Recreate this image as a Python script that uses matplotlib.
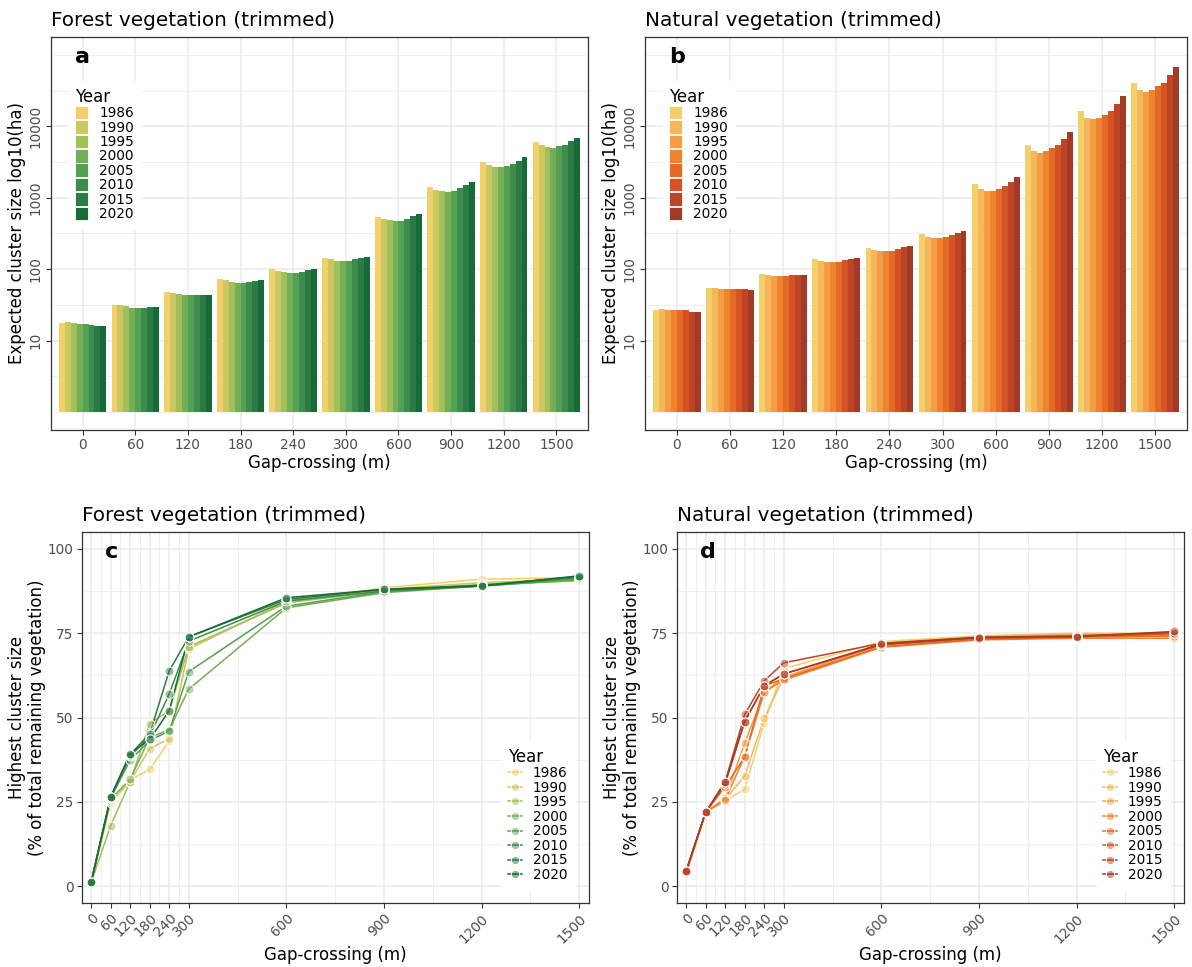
import matplotlib
matplotlib.use('Agg')
import matplotlib.pyplot as plt
from matplotlib.patches import Patch
from matplotlib.lines import Line2D
import matplotlib.colors as mcolors
import numpy as np

years = ['1986', '1990', '1995', '2000', '2005', '2010', '2015', '2020']
gaps = [0, 60, 120, 180, 240, 300, 600, 900, 1200, 1500]

forest_colors = ['#F3D06A', '#CBC863', '#A1BF5A', '#74AE57', '#52A155',
                 '#3C8C4D', '#2C7B45', '#176B37']
natural_colors = ['#F3D06A', '#F6B65A', '#F49D45', '#F0832E', '#E56A25',
                  '#D55323', '#BD4426', '#A23A28']

# expected cluster size (ha), one row per year, one value per gap
forest_ecs = [
    [17.7, 31.8, 47.8, 72.6, 100.0, 143.8, 542, 1438, 3170, 6098],
    [18.4, 31.8, 46.3, 70.3, 95.5, 137.8, 498, 1288, 2850, 5416],
    [17.7, 30.1, 44.8, 67.2, 92.6, 130.6, 482, 1236, 2673, 5132],
    [17.2, 29.1, 43.4, 64.4, 89.7, 130.6, 472, 1224, 2673, 5034],
    [17.2, 29.1, 43.4, 64.4, 89.7, 130.6, 472, 1264, 2786, 5295],
    [16.8, 29.1, 43.8, 67.2, 92.6, 137.8, 498, 1374, 2972, 5538],
    [16.2, 29.3, 44.2, 68.7, 96.8, 145.0, 548, 1533, 3313, 6296],
    [15.8, 29.3, 44.2, 70.3, 100.0, 148.5, 590, 1667, 3683, 6780],
]
natural_ecs = [
    [27.1, 54.3, 86.0, 137.8, 200.0, 310.6, 1549, 5470, 16140, 40950],
    [27.9, 54.3, 83.2, 130.6, 186.0, 285.0, 1318, 4467, 13180, 32370],
    [27.1, 53.1, 80.7, 126.5, 181.7, 276.0, 1264, 4285, 12590, 30400],
    [27.1, 53.1, 80.7, 126.5, 181.7, 276.0, 1264, 4510, 12880, 32370],
    [27.1, 53.1, 80.7, 127.7, 181.7, 282.0, 1348, 4920, 14520, 37200],
    [27.1, 53.1, 82.4, 133.5, 193.8, 298.0, 1452, 5470, 16290, 40550],
    [25.6, 52.7, 83.2, 137.8, 204.8, 321.0, 1687, 6714, 20660, 52480],
    [24.8, 51.4, 83.2, 142.3, 209.3, 339.0, 1938, 8405, 26720, 66950],
]

# highest cluster size (% of remaining vegetation)
forest_hcs = [
    [1.0, 24.6, 31.5, 34.6, 43.0, 70.7, 84.0, 88.5, 91.0, 91.5],
    [1.0, 25.1, 31.0, 40.8, 43.7, 70.3, 84.5, 88.0, 90.0, 91.0],
    [1.0, 17.9, 31.0, 48.2, 52.0, 71.0, 84.0, 87.5, 89.5, 90.5],
    [1.0, 25.8, 31.7, 44.0, 46.4, 58.4, 82.5, 87.0, 89.0, 90.8],
    [1.0, 26.0, 37.4, 43.2, 46.0, 63.6, 83.0, 87.3, 89.0, 91.0],
    [1.1, 26.4, 38.5, 44.5, 57.0, 72.6, 84.5, 87.5, 89.0, 91.5],
    [1.1, 26.4, 39.0, 45.2, 63.8, 73.9, 85.0, 88.0, 89.2, 91.8],
    [1.1, 26.5, 39.3, 43.5, 52.0, 73.9, 85.5, 88.0, 89.0, 92.0],
]
natural_hcs = [
    [3.5, 22.0, 25.3, 28.7, 48.4, 64.5, 72.5, 74.2, 75.0, 75.0],
    [3.8, 22.0, 25.8, 32.6, 49.8, 61.9, 72.0, 74.0, 74.8, 74.5],
    [4.0, 22.0, 26.0, 42.4, 57.5, 61.9, 71.5, 73.8, 74.5, 74.0],
    [4.2, 21.9, 25.5, 38.5, 57.5, 61.1, 70.8, 73.0, 73.5, 73.5],
    [4.2, 21.9, 29.5, 38.3, 59.4, 61.5, 71.0, 73.2, 73.8, 74.2],
    [4.4, 21.9, 30.2, 48.8, 59.4, 62.9, 71.5, 73.5, 74.0, 74.8],
    [4.5, 21.9, 30.9, 50.9, 60.9, 66.2, 72.0, 73.8, 74.2, 75.2],
    [4.5, 21.9, 30.9, 48.8, 59.4, 62.9, 71.8, 73.7, 74.0, 75.5],
]

W, H = 1192, 967
GRID = '#EBEBEB'
AXC = '#333333'
TICKC = '#4D4D4D'

fig = plt.figure(figsize=(W / 100, H / 100), dpi=100)


def px_axes(left, top, right, bottom):
    return fig.add_axes([left / W, 1 - bottom / H, (right - left) / W, (bottom - top) / H])


def style(ax):
    for s in ax.spines.values():
        s.set_color(AXC)
        s.set_linewidth(0.9)
    ax.set_facecolor('white')
    ax.set_axisbelow(True)
    ax.tick_params(which='major', color=AXC, length=3.5, width=0.8, labelcolor=TICKC,
                   labelsize=9.8, pad=2.5)
    ax.tick_params(which='minor', length=0)
    ax.grid(which='major', color=GRID, linewidth=1.1)
    ax.grid(which='minor', color=GRID, linewidth=0.55)


def bar_panel(ax, data, colors, title, letter):
    style(ax)
    n = len(years)
    w = 0.9 / n
    x = np.arange(len(gaps))
    for j in range(n):
        ax.bar(x + (j - (n - 1) / 2) * w, np.array(data[j]) - 1, width=w, bottom=1,
               color=colors[j], linewidth=0, label=years[j])
    ax.set_yscale('log')
    ax.set_ylim(10 ** -0.25, 10 ** 5.25)
    ax.set_xlim(-0.6, len(gaps) - 0.4)
    ax.set_xticks(x)
    ax.set_xticklabels([str(g) for g in gaps])
    ax.set_yticks([10, 100, 1000, 10000])
    ax.set_yticklabels(['10', '100', '1000', '10000'], rotation=90, va='center')
    ax.set_yticks([10 ** (k / 2) for k in range(0, 11) if k % 2 == 1 or k in (0, 10)], minor=True)
    ax.yaxis.set_minor_formatter(plt.NullFormatter())
    ax.set_xlabel('Gap-crossing (m)', fontsize=12, labelpad=1)
    ax.set_ylabel('Expected cluster size log10(ha)', fontsize=12, labelpad=2)
    ax.set_title(title, loc='left', fontsize=14.4, pad=8)
    ax.text(0.045, 0.934, letter, transform=ax.transAxes, fontsize=16, fontweight='bold')
    handles = [Patch(facecolor=c, edgecolor='white', linewidth=0.6) for c in colors]
    leg = ax.legend(handles, years, title='Year', loc='upper left',
                    bbox_to_anchor=(0.02, 0.905), fontsize=9.8, title_fontsize=12,
                    frameon=True, fancybox=False, framealpha=1, edgecolor='white',
                    handlelength=0.95, handleheight=1.15, labelspacing=0.0,
                    handletextpad=0.8, borderpad=0.5)
    leg._legend_box.align = 'left'


def line_panel(ax, data, colors, title, letter):
    style(ax)
    for j in range(len(years)):
        ax.plot(gaps, data[j], color=colors[j], linewidth=1.1, zorder=2)
    for j in range(len(years)):
        fc = mcolors.to_rgba(colors[j], 0.5)
        ax.scatter(gaps, data[j], s=42, facecolor=fc, edgecolor='white', linewidth=0.7, zorder=3)
    ax.set_xlim(-28, 1530)
    ax.set_ylim(-5, 105)
    ax.set_xticks(gaps)
    ax.set_xticklabels([str(g) for g in gaps], rotation=45, ha='right', va='top',
                       rotation_mode='anchor')
    ax.set_xticks([30, 90, 150, 210, 270, 450, 750, 1050, 1350], minor=True)
    ax.set_yticks([0, 25, 50, 75, 100])
    ax.set_yticks([12.5, 37.5, 62.5, 87.5], minor=True)
    ax.set_xlabel('Gap-crossing (m)', fontsize=12, labelpad=0)
    ax.set_ylabel('Highest cluster size\n(% of total remaining vegetation)', fontsize=12, labelpad=1)
    ax.set_title(title, loc='left', fontsize=14.4, pad=8)
    ax.text(0.045, 0.93, letter, transform=ax.transAxes, fontsize=16, fontweight='bold')
    handles = [Line2D([0], [0], color=c, linewidth=1.1, marker='o', markersize=6,
                      markerfacecolor=mcolors.to_rgba(c, 0.5), markeredgecolor='white',
                      markeredgewidth=0.7) for c in colors]
    leg = ax.legend(handles, years, title='Year', loc='lower right',
                    bbox_to_anchor=(0.985, 0.02), fontsize=9.8, title_fontsize=12,
                    frameon=True, fancybox=False, framealpha=1, edgecolor='white',
                    handlelength=1.0, labelspacing=0.04, handletextpad=0.8, borderpad=0.5)
    leg._legend_box.align = 'left'


ax_a = px_axes(51, 37, 588, 430)
bar_panel(ax_a, forest_ecs, forest_colors, 'Forest vegetation (trimmed)', 'a')

ax_b = px_axes(645, 37, 1187, 430)
bar_panel(ax_b, natural_ecs, natural_colors, 'Natural vegetation (trimmed)', 'b')

ax_c = px_axes(82, 532, 589, 903)
line_panel(ax_c, forest_hcs, forest_colors, 'Forest vegetation (trimmed)', 'c')

ax_d = px_axes(677, 532, 1184, 903)
line_panel(ax_d, natural_hcs, natural_colors, 'Natural vegetation (trimmed)', 'd')

fig.savefig('out.png', dpi=100, facecolor='white')
